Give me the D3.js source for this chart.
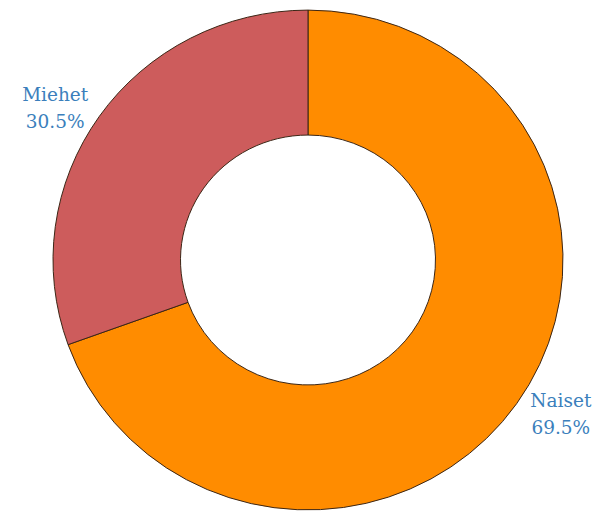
<!DOCTYPE html>
<html>
<head>
<meta charset="utf-8">
<script src="https://cdn.jsdelivr.net/npm/d3@7"></script>
<style>
  html, body { margin: 0; padding: 0; background: #ffffff; }
  svg { display: block; }
  .slice-label { font-family: "DejaVu Serif", serif; }
</style>
</head>
<body>
<svg id="chart" width="594" height="511"></svg>
<script>
// Share of respondents by gender
const categories = ["Naiset", "Miehet"];
const values = [69.5, 30.5];
const colors = ["#FF8C00", "#CD5C5C"];

const width = 594, height = 511;
const cx = 308, cy = 260;
const outerR = 255, innerR = 127.5;
const squash = 0.98;      // the ring is drawn slightly flattened
const labelR = 309, labelSquash = 0.86;

const data = categories.map((c, i) => ({ name: c, value: values[i], color: colors[i] }));

const pie = d3.pie().value(d => d.value).sort(null);
const arcs = pie(data);

const arc = d3.arc().innerRadius(innerR).outerRadius(outerR);
const labelArc = d3.arc().innerRadius(labelR).outerRadius(labelR);

const svg = d3.select("#chart");

svg.append("g")
  .attr("transform", `translate(${cx},${cy}) scale(1,${squash})`)
  .selectAll("path")
  .data(arcs)
  .join("path")
  .attr("d", arc)
  .attr("fill", d => d.data.color)
  .attr("stroke", "#3a2414")
  .attr("stroke-width", 1)
  .attr("stroke-linejoin", "round");

const fmt = d3.format(".1f");

const labels = svg.append("g")
  .selectAll("text")
  .data(arcs)
  .join("text")
  .attr("class", "slice-label")
  .attr("transform", d => {
    const [x, y] = labelArc.centroid(d);
    return `translate(${cx + x},${cy + y * labelSquash})`;
  })
  .attr("text-anchor", "middle")
  .attr("font-size", 18.5)
  .attr("fill", "#3b7fbc");

labels.append("tspan")
  .attr("x", 0)
  .attr("y", -6)
  .text(d => d.data.name);

labels.append("tspan")
  .attr("x", 0)
  .attr("y", 21)
  .text(d => fmt(d.data.value) + "%");
</script>
</body>
</html>
